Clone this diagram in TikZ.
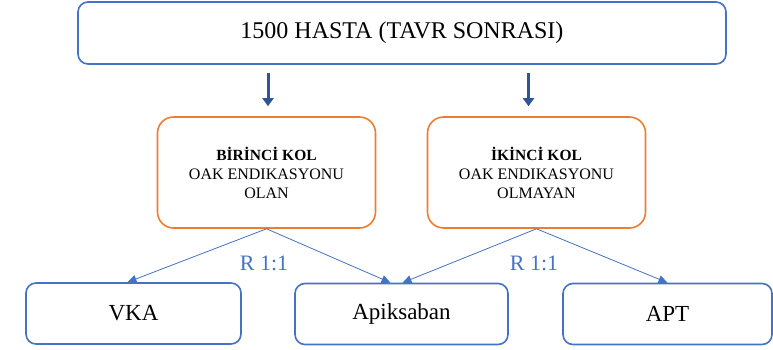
\documentclass[tikz,border=0pt]{standalone}
\usepackage{fontspec}
\setmainfont{Liberation Serif}
\usetikzlibrary{arrows.meta}
\definecolor{kutu}{HTML}{4472C4}
\definecolor{turuncu}{HTML}{ED7D31}
\definecolor{ok}{HTML}{2F5597}

\begin{document}
\begin{tikzpicture}[x=1pt,y=-1pt,
    mavi/.style={draw=kutu, line width=1.6pt, rounded corners=10pt, minimum height=61pt, font=\fontsize{23}{27}\selectfont},
    kol/.style={draw=turuncu, line width=1.6pt, rounded corners=16pt, minimum width=218pt, minimum height=111pt, align=center, font=\fontsize{16}{19}\selectfont},
    kalin/.style={draw=ok, line width=3pt, -{Triangle[length=8pt,width=11pt]}},
    ince/.style={draw=kutu, line width=0.8pt, -{Triangle[length=9pt,width=8pt]}},
    oran/.style={text=kutu, font=\fontsize{22}{26}\selectfont}]
  \useasboundingbox (0,0) rectangle (773,349);

  % Hasta kutusu
  \node[mavi, minimum width=648pt, minimum height=62pt, font=\fontsize{24}{28}\selectfont] (hasta) at (402,33) {1500 HASTA (TAVR SONRASI)};

  % Kollar
  \node[kol] (kol1) at (266.5,172.5) {{\fontsize{15.5}{19}\selectfont\bfseries BİRİNCİ KOL}\\OAK ENDIKASYONU\\OLAN};
  \node[kol] (kol2) at (536.5,172.5) {{\fontsize{15.5}{19}\selectfont\bfseries İKİNCİ KOL}\\OAK ENDIKASYONU\\OLMAYAN};
  \draw[kalin, shorten <=8pt, shorten >=10pt] ([xshift=1.5pt]kol1.north |- hasta.south) -- ([xshift=1.5pt]kol1.north);
  \draw[kalin, shorten <=8pt, shorten >=10pt] ([xshift=-8pt]kol2.north |- hasta.south) -- ([xshift=-8pt]kol2.north);

  % Ilaclar
  \node[mavi, minimum width=215pt] (vka) at (133.5,313.5) {VKA};
  \node[mavi, minimum width=213pt] (apik) at (401.5,314) {Apiksaban};
  \node[mavi, minimum width=209pt] (apt) at (667.5,314) {APT};

  \draw[ince] (kol1.south) -- ([xshift=-6pt]vka.north);
  \draw[ince] (kol1.south) -- ([xshift=-11pt]apik.north);
  \draw[ince] (kol2.south) -- ([xshift=1pt]apik.north);
  \draw[ince] (kol2.south) -- (apt.north);

  % Randomizasyon
  \node[oran] (r1) at (264,263) {R 1:1};
  \node[oran] (r2) at (534,263) {R 1:1};
\end{tikzpicture}
\end{document}
